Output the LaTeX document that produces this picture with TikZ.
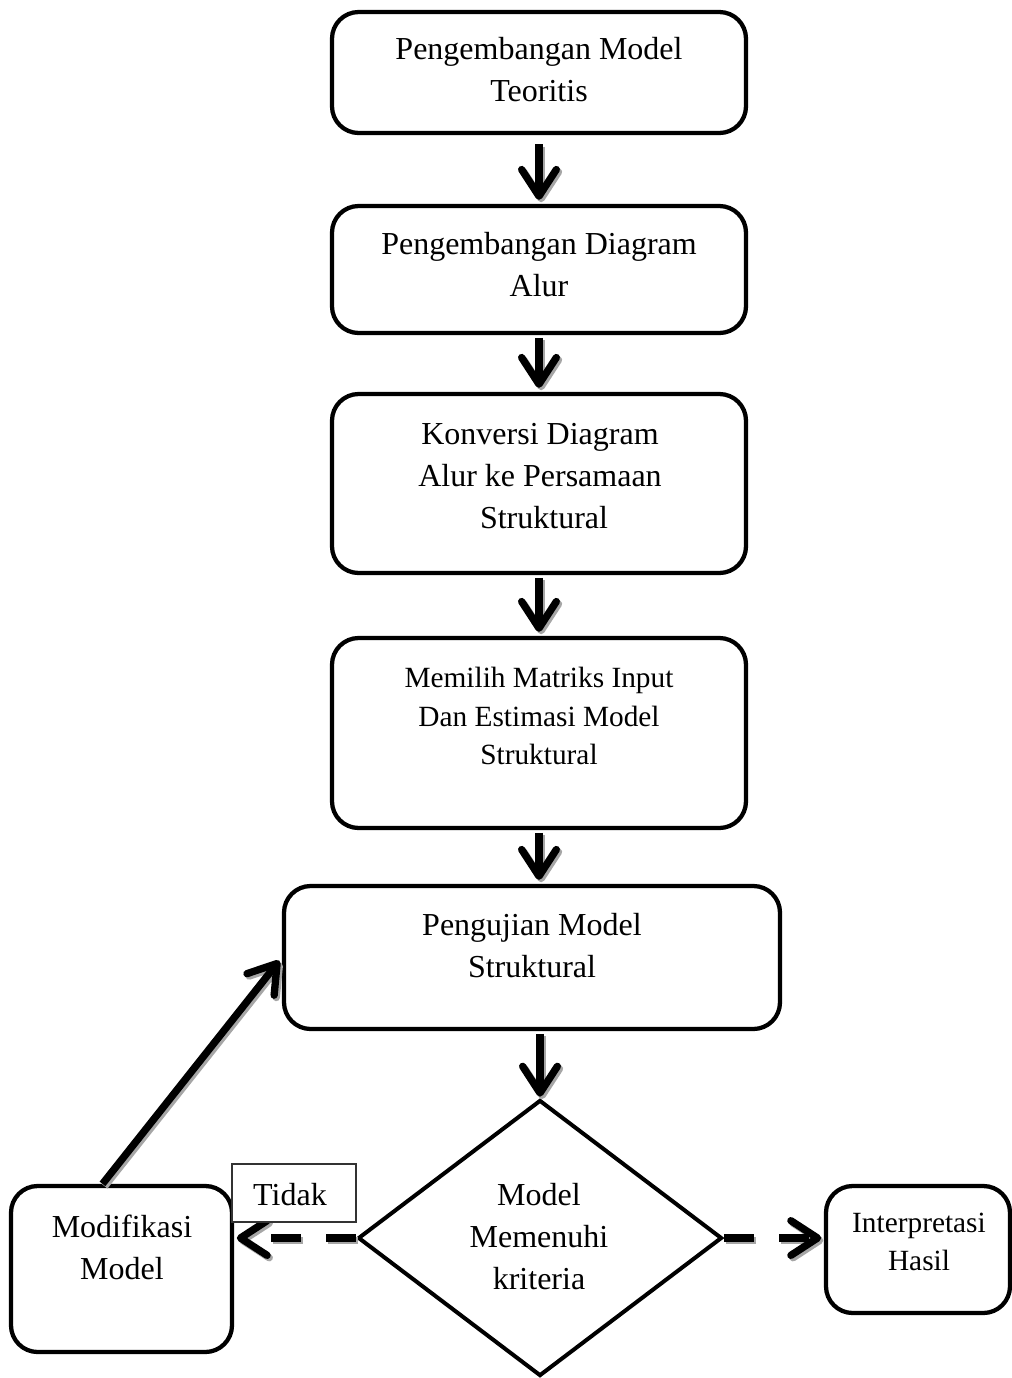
\documentclass[tikz,border=0pt]{standalone}
\usepackage{fontspec}
\setmainfont{Liberation Serif}
\usetikzlibrary{arrows.meta,shapes.geometric,calc}
\begin{document}
\begin{tikzpicture}[x=0.75pt,y=-0.75pt,
  box/.style={draw, line width=3.2pt, rounded corners=20pt, fill=white, inner sep=0pt},
  dia/.style={draw, diamond, line width=3pt, inner sep=0pt, fill=white},
  tag/.style={draw=black!80, line width=0.8pt, fill=white, inner sep=0pt, minimum width=93pt, minimum height=43.5pt},
  txt/.style={align=center, font=\fontsize{24}{31.5}\selectfont, inner sep=0pt},
  smalltxt/.style={align=center, font=\fontsize{22}{29}\selectfont, inner sep=0pt},
  flow/.style={line width=5.5pt, -{Straight Barb[length=20pt,width=26pt,line width=5.5pt,round]}},
  shade/.style={flow, draw=black!35, transform canvas={shift={(1.6pt,-1.8pt)}}},
  dashy/.style={dash pattern=on 22.5pt off 19pt}
]
\path[use as bounding box, fill=white] (0,0) rectangle (1011,1378);

% boxes
\node[box, minimum width=310.5pt, minimum height=90.75pt] (b1) at (539,72.5) {};
\node[box, minimum width=310.5pt, minimum height=95.25pt] (b2) at (539,269.5) {};
\node[box, minimum width=310.5pt, minimum height=134.25pt] (b3) at (539,483.5) {};
\node[box, minimum width=310.5pt, minimum height=142.5pt] (b4) at (539,733) {};
\node[box, minimum width=372pt, minimum height=107.25pt] (b5) at (532,957.5) {};
\node[dia, minimum width=273pt, minimum height=207pt] (d) at (540,1238) {};
\node[box, minimum width=165.75pt, minimum height=124.5pt] (mod) at (121.5,1269) {};
\node[box, minimum width=138pt, minimum height=95.25pt] (hasil) at (918,1249.5) {};

% texts
\node[txt] (t1) at (539,70) {Pengembangan Model\\Teoritis};
\node[txt] (t2) at (539,265) {Pengembangan Diagram\\Alur};
\node[txt] (t3) at (540,476) {Konversi Diagram\\Alur ke Persamaan\\\hspace*{6pt}Struktural};
\node[smalltxt] (t4) at (539,716) {Memilih Matriks Input\\Dan Estimasi Model\\Struktural};
\node[txt] (t5) at (532,946) {Pengujian Model\\Struktural};
\node[txt] (td) at (539,1237) {Model\\Memenuhi\\kriteria};
\node[txt] (tm) at (122,1247) {Modifikasi\\Model};
\node[smalltxt] (th) at (919,1242) {Interpretasi\\Hasil};

% connector end points
\coordinate (e45) at (b4.south |- b5.north);
\coordinate (s5d) at (d.north |- b5.south);
\coordinate (mstart) at ($(mod.north)+(-19,0)$);
\coordinate (emod) at (mod.east |- d.west);
\coordinate (ehasil) at (hasil.west |- d.east);

% shadows
\draw[shade, shorten <=7pt, shorten >=3pt] (b1) -- (b2);
\draw[shade, shorten <=2pt, shorten >=3pt] (b2) -- (b3);
\draw[shade, shorten <=2pt, shorten >=3pt] (b3) -- (b4);
\draw[shade, shorten <=2pt, shorten >=3pt] (b4.south) -- (e45);
\draw[shade, shorten <=2pt, shorten >=1pt] (s5d) -- (d.north);
\draw[shade, shorten >=3pt] (mstart) -- (b5.west);
\draw[shade, dashy, shorten >=2pt] (d.west) -- (emod);
\draw[shade, dashy, shorten >=2pt] (d.east) -- (ehasil);

% connectors
\draw[flow, shorten <=7pt, shorten >=3pt] (b1) -- (b2);
\draw[flow, shorten <=2pt, shorten >=3pt] (b2) -- (b3);
\draw[flow, shorten <=2pt, shorten >=3pt] (b3) -- (b4);
\draw[flow, shorten <=2pt, shorten >=3pt] (b4.south) -- (e45);
\draw[flow, shorten <=2pt, shorten >=1pt] (s5d) -- (d.north);
\draw[flow, shorten >=3pt] (mstart) -- (b5.west);
\draw[flow, dashy, shorten >=2pt] (d.west) -- (emod);
\draw[flow, dashy, shorten >=2pt] (d.east) -- (ehasil);

% label
\node[tag] (tidak) at (294,1193) {};
\node[txt] (tt) at (290,1195) {Tidak};
\end{tikzpicture}
\end{document}
